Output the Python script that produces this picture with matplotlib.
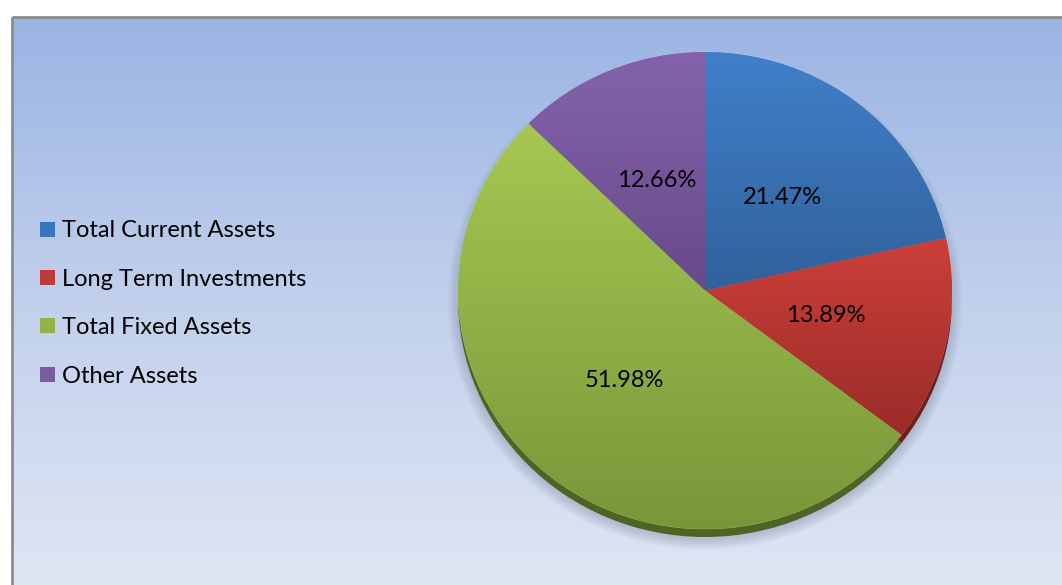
import numpy as np
import matplotlib.pyplot as plt
from matplotlib.colors import LinearSegmentedColormap
from matplotlib.patches import Rectangle, Ellipse, Patch

plt.rcParams['font.family'] = ['Lato', 'DejaVu Sans']

# Datos del gráfico
categorias = ['Total Current Assets', 'Long Term Investments',
              'Total Fixed Assets', 'Other Assets']
porcentajes = [21.47, 13.89, 51.98, 12.66]
colores_claros = ['#4080CA', '#CC3F39', '#A6C852', '#8563AC']
colores_oscuros = ['#32619B', '#9A2C29', '#789739', '#674A8A']
colores_borde = ['#24456E', '#6E1E1C', '#4E6324', '#4A3463']
colores_leyenda = ['#3A74BC', '#BE3A35', '#92B447', '#7A5AA0']

W, H = 1062, 585
fig = plt.figure(figsize=(W / 100, H / 100), dpi=100)
fig.patch.set_facecolor('white')

# Fondo con degradado y marco
fondo = fig.add_axes([0, 0, 1, 1])
fondo.set_xlim(0, W)
fondo.set_ylim(H, 0)
fondo.axis('off')
grad = np.linspace(0, 1, 256).reshape(-1, 1)
cmap_fondo = LinearSegmentedColormap.from_list('fondo', ['#9AB4E3', '#C2D0EC', '#DFE6F3'])
fondo.imshow(grad, cmap=cmap_fondo, extent=(12, W, H, 17), aspect='auto', zorder=0)
fondo.add_patch(Rectangle((12, 17), W, H, fill=False, edgecolor='#8C8C8C', linewidth=2, zorder=1))

# Ejes del pastel (elipse ligeramente inclinada)
cx, cy = 705, 290.5
rx, ry = 247, 238.5
m = 1.12
ax = fig.add_axes([(cx - m * rx) / W, 1 - (cy + m * ry) / H, 2 * m * rx / W, 2 * m * ry / H])

# sombra suave
for k in range(8):
    ax.add_patch(Ellipse((0.0, -0.045), 2 + 0.012 * k, 2 + 0.012 * k,
                         facecolor='#1a2540', edgecolor='none', alpha=0.025, zorder=1))

# grosor del disco
prof = 8 / ry
ax.pie(porcentajes, colors=colores_borde, startangle=90, counterclock=False,
       center=(0, -prof), radius=1.0, wedgeprops=dict(linewidth=0), frame=True)

cunas, textos, pct = ax.pie(porcentajes, colors=colores_claros, startangle=90,
                            counterclock=False, radius=1.0, autopct='%1.2f%%',
                            pctdistance=0.5, frame=True,
                            wedgeprops=dict(linewidth=0.6, edgecolor=(1, 1, 1, 0.25)),
                            textprops=dict(fontsize=17, color='black'))
ax.set_xlim(-m, m)
ax.set_ylim(-m, m)
ax.set_aspect('auto')
ax.axis('off')

# degradado vertical dentro de cada porción
for cuna, claro, oscuro in zip(cunas, colores_claros, colores_oscuros):
    ext = cuna.get_path().get_extents()
    cmap = LinearSegmentedColormap.from_list('c', [oscuro, claro])
    img = ax.imshow(np.linspace(0, 1, 256).reshape(-1, 1), cmap=cmap, origin='lower',
                    extent=(ext.x0, ext.x1, ext.y0, ext.y1), aspect='auto',
                    zorder=cuna.get_zorder() + 0.1)
    img.set_clip_path(cuna)
for t in pct:
    t.set_zorder(5)

# Leyenda
manejadores = [Patch(facecolor=c, edgecolor='none') for c in colores_leyenda]
fondo.legend(manejadores, categorias, loc='center left', bbox_to_anchor=(31, 303.5),
             bbox_transform=fondo.transData, frameon=False, fontsize=17,
             handlelength=0.6, handleheight=0.6, handletextpad=0.3, labelspacing=1.16,
             borderaxespad=0)

fig.savefig('out.png', dpi=100, facecolor='white')
